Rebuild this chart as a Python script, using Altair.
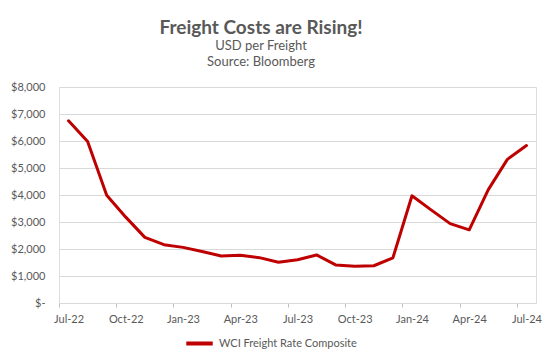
import altair as alt
import pandas as pd

months = ["Jul-22", "Aug-22", "Sep-22", "Oct-22", "Nov-22", "Dec-22",
          "Jan-23", "Feb-23", "Mar-23", "Apr-23", "May-23", "Jun-23",
          "Jul-23", "Aug-23", "Sep-23", "Oct-23", "Nov-23", "Dec-23",
          "Jan-24", "Feb-24", "Mar-24", "Apr-24", "May-24", "Jun-24", "Jul-24"]
values = [6750, 5980, 3990, 3180, 2430, 2160,
          2060, 1910, 1740, 1770, 1680, 1510,
          1600, 1780, 1410, 1360, 1380, 1670,
          3970, 3450, 2940, 2710, 4200, 5320, 5830]
series_name = "WCI Freight Rate Composite"
y_ticks = [0, 1000, 2000, 3000, 4000, 5000, 6000, 7000, 8000]
x_tick_idx = list(range(0, len(months), 3))

df = pd.DataFrame({
    "i": list(range(len(months))),
    "month": months,
    "value": values,
    "series": series_name,
})

label_arr = "[" + ",".join(f"'{m}'" for m in months) + "]"
TXT = "#595959"
W, H = 477, 216
step = W / len(months)

chart = alt.Chart(df).mark_line(
    strokeWidth=3, strokeJoin="round", strokeCap="round"
).encode(
    x=alt.X("i:Q",
            scale=alt.Scale(domain=[-0.5, len(months) - 0.5], nice=False, zero=False),
            axis=alt.Axis(values=x_tick_idx, labelExpr=f"{label_arr}[datum.value]",
                          title=None, grid=False, domainColor="#D9D9D9", domainWidth=1,
                          tickColor="#BFBFBF", tickSize=4, tickOffset=-step / 2,
                          labelOffset=step / 2, labelPadding=6, labelFontSize=11,
                          labelColor=TXT, labelFont="Lato")),
    y=alt.Y("value:Q",
            scale=alt.Scale(domain=[0, 8000], nice=False),
            axis=alt.Axis(values=y_ticks,
                          labelExpr="datum.value == 0 ? '$-\u00a0\u00a0' : '$' + format(datum.value, ',')",
                          title=None, grid=True, gridColor="#D9D9D9", gridWidth=1,
                          domain=False, ticks=False, tickSize=0, labelPadding=14,
                          labelFontSize=11, labelColor=TXT, labelFont="Lato")),
    color=alt.Color("series:N",
                    scale=alt.Scale(range=["#BE0000"]),
                    legend=alt.Legend(title=None, orient="none", legendX=125, legendY=241,
                                      symbolType="stroke", symbolSize=700, symbolStrokeWidth=4,
                                      labelFontSize=11, labelColor=TXT, labelFont="Lato",
                                      padding=0)),
).properties(
    width=W, height=H,
    padding={"left": 51, "top": 79, "right": 8, "bottom": 53},
    autosize=alt.AutoSizeParams(type="none"),
    title=alt.TitleParams(
        text="Freight Costs are Rising!",
        subtitle=["USD per Freight", "Source: Bloomberg"],
        anchor="middle", dx=-36.5, offset=12,
        font="Lato", fontSize=19, fontWeight="bold", color=TXT,
        subtitleFont="Lato", subtitleFontSize=13, subtitleColor=TXT,
        subtitlePadding=2, subtitleLineHeight=16.5,
    ),
).configure_view(stroke=None).configure(background="white")

chart.save("out.html", embed_options={"renderer": "svg", "actions": False})
